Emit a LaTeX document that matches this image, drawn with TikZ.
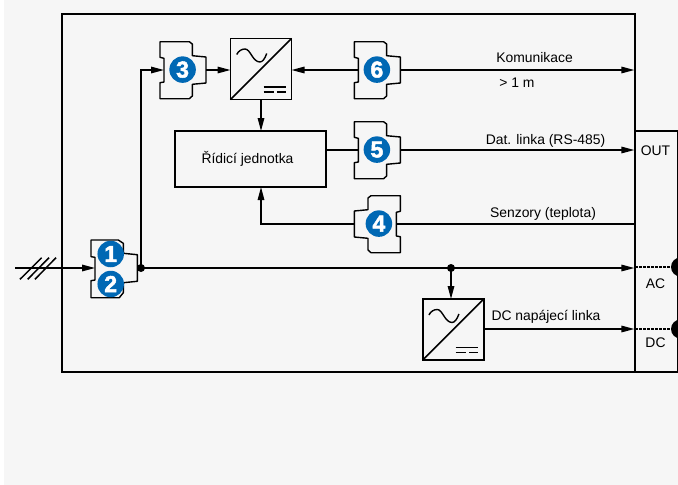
\documentclass[tikz,border=0pt]{standalone}
\usepackage{fontspec}
\setmainfont{Liberation Sans}
\newfontfamily\badgefont[FakeBold=2.2]{Liberation Sans Bold}
\usetikzlibrary{arrows.meta,calc}
\definecolor{pagegray}{HTML}{F6F6F6}
\definecolor{badgeblue}{HTML}{0068B4}
\tikzset{
  x=1pt,y=-1pt,
  every node/.style={outer sep=0pt},
  wire/.style={line width=1.5pt,draw=black},
  arrowwire/.style={wire,-{Triangle[length=13pt,width=6.5pt]},shorten >=1pt},
  shell/.style={line width=1.4pt,draw=black,line join=round},
  badge/.style={circle,fill=badgeblue,minimum size=26.5pt,inner sep=0pt,text=white,font=\badgefont\fontsize{23}{23}\selectfont},
  port/.style={inner sep=0pt,minimum height=30pt,rectangle},
  label/.style={inner sep=0pt,font=\fontsize{13.9}{15}\selectfont},
  conv/.style={draw=black,line width=1.7pt,minimum size=61pt,inner sep=0pt,rectangle,anchor=north west},
  dot/.style={circle,fill=black,inner sep=0pt,minimum size=8pt},
  pin/.style={circle,fill=black,inner sep=0pt,minimum size=19pt},
}
% #1 port node name, #2 badge name, #3 centre x, #4 centre y, #5 digit, #6 xscale
\newcommand{\relayshape}[6]{%
  \draw[shell,shift={(#3,#4)},xscale=#6]
    (-22,-28.3)--(7.3,-28.3)--(10.3,-26)--(10.3,-14.3)--(24,-13)--(24,13)--(10.3,14.3)
    --(10.3,26)--(7.3,28.7)--(-22,28.7)--(-22,12.7)--(-18,12)--(-18,-11.7)--(-22,-12.7)--cycle;
  \node[port,minimum width=42pt] (#1) at ({#3+3*#6},#4) {};
  \node[badge] (#2) at (#3+0.6,#4-0.4) {#5};
}
\newcommand{\convmarks}[1]{%
  \draw[line width=1.7pt] (#1.south west)--(#1.north east);
  \begin{scope}[shift={(#1.north west)}]
  \draw[line width=1.4pt] (6.2,16) .. controls (8,12.5) and (11,10.5) .. (14.5,10.5)
     .. controls (20,10.5) and (22,23.5) .. (29.5,23.5)
     .. controls (32,23.5) and (34.5,20) .. (36.2,15);
  \draw[line width=1.4pt] (33,48.3)--(55.4,48.3);
  \draw[line width=1.4pt] (33,53.3)--(43,53.3);
  \draw[line width=1.4pt] (46.4,53.3)--(55.4,53.3);
  \end{scope}
}
\begin{document}
\begin{tikzpicture}
\useasboundingbox (0,0) rectangle (678,485);
\fill[white] (0,0) rectangle (678,485);
\fill[pagegray] (4,0) rectangle (678,485);
% frames
\node[draw=black,line width=1.8pt,rectangle,inner sep=0pt,minimum width=573pt,minimum height=358.5pt,anchor=north west] (frame) at (62.2,13.6) {};
\node[draw=black,line width=1.2pt,rectangle,inner sep=0pt,minimum width=42.2pt,minimum height=241pt,anchor=north west] (outbox) at (635.4,131) {};
\draw[line width=1.9pt] (outbox.north west)--(outbox.south west);
% converters
\node[conv] (inv1) at (230.5,38.5) {};
\convmarks{inv1}
\node[conv] (inv2) at (422.7,299) {};
\convmarks{inv2}
% control unit
\node[draw=black,line width=1.3pt,rectangle,inner sep=0pt,minimum width=151pt,minimum height=56pt,anchor=north west] (ctrl) at (175,131) {};
\node[label] (ctrltext) at (247.5,158.5) {Řídicí jednotka};
% relays
\relayshape{r3}{b3}{182}{70}{3}{1}
\relayshape{r6}{b6}{376.3}{70}{6}{1}
\relayshape{r5}{b5}{376.3}{150}{5}{1}
\relayshape{r4}{b4}{378.3}{224}{4}{-1}
% double relay
\draw[shell] (91,240)--(118.3,240)--(123.3,243.3)--(123.3,253.3)--(137.3,254.7)--(137.3,281.3)--(123.3,282.7)
  --(123.3,292.7)--(119.3,297.7)--(91,297.7)--(91,280.7)--(95,280)--(95,257.3)--(91,256.7)--cycle;
\node[port,minimum width=42.3pt] (r12) at (116.2,268) {};
\node[badge] (b1) at (110.7,254) {1};
\node[badge] (b2) at (110.7,284) {2};
% junctions and contacts
\node[dot] (j1) at (141,268) {};
\node[dot] (j2) at (451,268) {};
\node[pin] (acpin) at (680.5,267) {};
\node[pin] (dcpin) at (680.5,329) {};
\coordinate (inp) at (15,268);
\coordinate (s1a) at (20,279.3); \coordinate (s1b) at (41.7,257.7);
\coordinate (s2a) at (27.7,279.3); \coordinate (s2b) at (49,257.7);
\coordinate (s3a) at (35,279.3); \coordinate (s3b) at (56,257.7);
\draw[wire] (s1a)--(s1b);
\draw[wire] (s2a)--(s2b);
\draw[wire] (s3a)--(s3b);
% connectors
\draw[arrowwire,shorten >=0pt] (inp)--(r12.west);
\draw[wire] (r12.east)--(j1);
\draw[arrowwire,shorten >=0pt] (j1.center)|-(r3.west);
\draw[arrowwire,shorten >=0pt] (r3.east)--(inv1.west|-r3.east);
\draw[arrowwire,shorten >=0pt] (inv1.south)--(ctrl.north-|inv1.south);
\draw[wire,{Triangle[length=13pt,width=6.5pt]}-] (inv1.east|-r6.west)--(r6.west);
\draw[arrowwire] (r6.east)--(r6.east-|outbox.west);
\draw[wire] (ctrl.east|-r5.west)--(r5.west);
\draw[arrowwire] (r5.east)--(r5.east-|outbox.west);
\draw[wire] (r4.east)--(r4.east-|outbox.west);
\draw[arrowwire,shorten >=0pt] (r4.west)-|(inv1.south|-ctrl.south);
\draw[arrowwire] (j1.center)--(j1.center-|outbox.west);
\draw[arrowwire,shorten >=0pt] (j2.center)--(inv2.north-|j2.center);
\draw[arrowwire] (inv2.east|-dcpin)--(dcpin-|outbox.west);
\draw[line width=1.4pt,dash pattern=on 2.5pt off 1.5pt] (acpin-|outbox.west)--(acpin);
\draw[line width=1.4pt,dash pattern=on 2.5pt off 1.5pt] (dcpin-|outbox.west)--(dcpin);
% labels
\node[label] (t1) at (534.5,58) {Komunikace};
\node[label] (t2) at (517,82.5) {> 1 m};
\node[label] (t3) at (545.5,141) {Dat. linka (RS-485)};
\node[label] (t4) at (543,214) {Senzory (teplota)};
\node[label] (t5) at (546,317) {DC napájecí linka};
\node[label] (t6) at (655.5,150.5) {OUT};
\node[label] (t7) at (655.5,284) {AC};
\node[label] (t8) at (655.5,343) {DC};
\end{tikzpicture}
\end{document}
